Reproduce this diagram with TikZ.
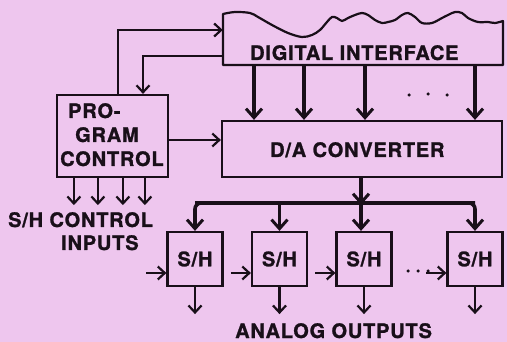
\documentclass[tikz,border=0pt]{standalone}
\usepackage{fontspec}
\setmainfont{TeX Gyre Heros}[LetterSpace=4,FakeBold=1.2]
\usetikzlibrary{arrows.meta}
\definecolor{bg}{RGB}{238,198,238}
\definecolor{ink}{RGB}{25,15,25}
\begin{document}
\begin{tikzpicture}[x=1pt,y=-1pt,
  box/.style={draw=ink,line width=2.2pt,fill=bg,inner sep=0pt},
  lbl/.style={font=\fontsize{20}{24}\selectfont\bfseries,text=ink,inner sep=0pt},
  ctrl/.style={draw=ink,line width=2.2pt,-{Straight Barb[length=7pt,width=13pt,line width=2.2pt]}},
  busl/.style={draw=ink,line width=3.6pt,-{Straight Barb[length=9pt,width=16pt,line width=3pt]}},
  dot/.style={circle,fill=ink,inner sep=0pt,minimum size=3.5pt}
]
\fill[bg] (0,0) rectangle (507,342);
\useasboundingbox (0,0) rectangle (507,342);

% Digital interface (torn top)
\filldraw[draw=ink,fill=bg,line width=2.2pt,line join=round]
  (503,65) -- (223,65) -- (223,14) -- plot[smooth,tension=0.55] coordinates {
  (223,14) (235,12) (250,13) (258,17) (272,25) (288,33) (302,37) (312,35)
  (320,30) (327,22) (332,17) (337,18) (342,21) (348,18) (355,15) (362,13)
  (368,15) (375,20) (382,23) (388,22) (395,20) (402,15) (408,13) (415,17)
  (422,23) (432,23) (442,18) (448,15) (455,12) (462,13) (468,18) (478,22)
  (488,22) (495,23) (503,21)} -- cycle;
\node[minimum width=280pt,minimum height=52pt,inner sep=0pt] (di) at (363,39) {};
\node[lbl,anchor=base west] (ditext) at (250,60) {DIGITAL INTERFACE};

% D/A converter
\node[box,minimum width=280pt,minimum height=56pt] (da) at (362,149) {};
\node[lbl,anchor=base west] (datext) at (270,157) {D/A CONVERTER};

% Program control
\node[box,minimum width=111pt,minimum height=82pt] (pc) at (112.5,136) {};
\node[lbl,anchor=base west] (pc1) at (68,118) {PRO-};
\node[lbl,anchor=base west] (pc2) at (75,142) {GRAM};
\node[lbl,anchor=base west] (pc3) at (60,166) {CONTROL};

% S/H boxes
\node[box,minimum width=55pt,minimum height=54pt,lbl] (sh1) at (195,259) {S/H};
\node[box,minimum width=55pt,minimum height=54pt,lbl] (sh2) at (279.5,259) {S/H};
\node[box,minimum width=55pt,minimum height=54pt,lbl] (sh3) at (364,259) {S/H};
\node[box,minimum width=55pt,minimum height=54pt,lbl] (sh4) at (475,259) {S/H};

% labels
\node[lbl,anchor=base west] (ctl1) at (8,227) {S/H CONTROL};
\node[lbl,anchor=base west] (ctl2) at (61,250) {INPUTS};
\node[lbl,anchor=base west] (outs) at (235,338) {ANALOG OUTPUTS};

% control connections
\coordinate (upx) at (118,30);
\draw[ctrl] (pc.north -| upx) |- (di.west |- upx);
\coordinate (dnx) at (143,56);
\draw[ctrl] (di.west |- dnx) -| (pc.north -| dnx);
\coordinate (rgt) at (0,140);
\draw[ctrl] (pc.east |- rgt) -- (da.west |- rgt);

% S/H control inputs
\foreach \dx in {18,42,67,89}
  \draw[ctrl] (pc.south west) ++(\dx,0) -- ++(0,27);

% Digital interface to D/A
\foreach \xx in {254,304,365,475} {
  \coordinate (t\xx) at (\xx,0);
  \draw[busl] (di.south -| t\xx) -- (da.north -| t\xx);
}
\node[dot] (d1) at (409,95) {};
\node[dot] (d2) at (428,94) {};
\node[dot] (d3) at (447,95) {};

% bus to S/H
\coordinate (bus) at (0,203);
\draw[busl,rounded corners=6pt] (sh4.north |- bus) -- (sh1.north |- bus) -- (sh1.north);
\draw[busl,rounded corners=6pt] (sh1.north |- bus) -- (sh4.north |- bus) -- (sh4.north);
\draw[busl] (sh2.north |- bus) -- (sh2.north);
\coordinate (mid) at (361,0);
\draw[busl,shorten >=-2pt] (da.south -| mid) -- (bus -| mid);
\draw[busl] (bus -| mid) -- (sh3.north -| mid);

% side inputs and outputs
\foreach \s in {sh1,sh2,sh3,sh4} {
  \draw[ctrl] ([yshift=-14pt]\s.west) ++(-20,0) -- ++(20,0);
  \draw[ctrl] (\s.south) -- ++(0,27);
}
\node[dot,minimum size=3.5pt] (e1) at (408,271) {};
\node[dot,minimum size=3.5pt] (e2) at (418,271) {};
\node[dot,minimum size=3.5pt] (e3) at (428,271) {};
\end{tikzpicture}
\end{document}
